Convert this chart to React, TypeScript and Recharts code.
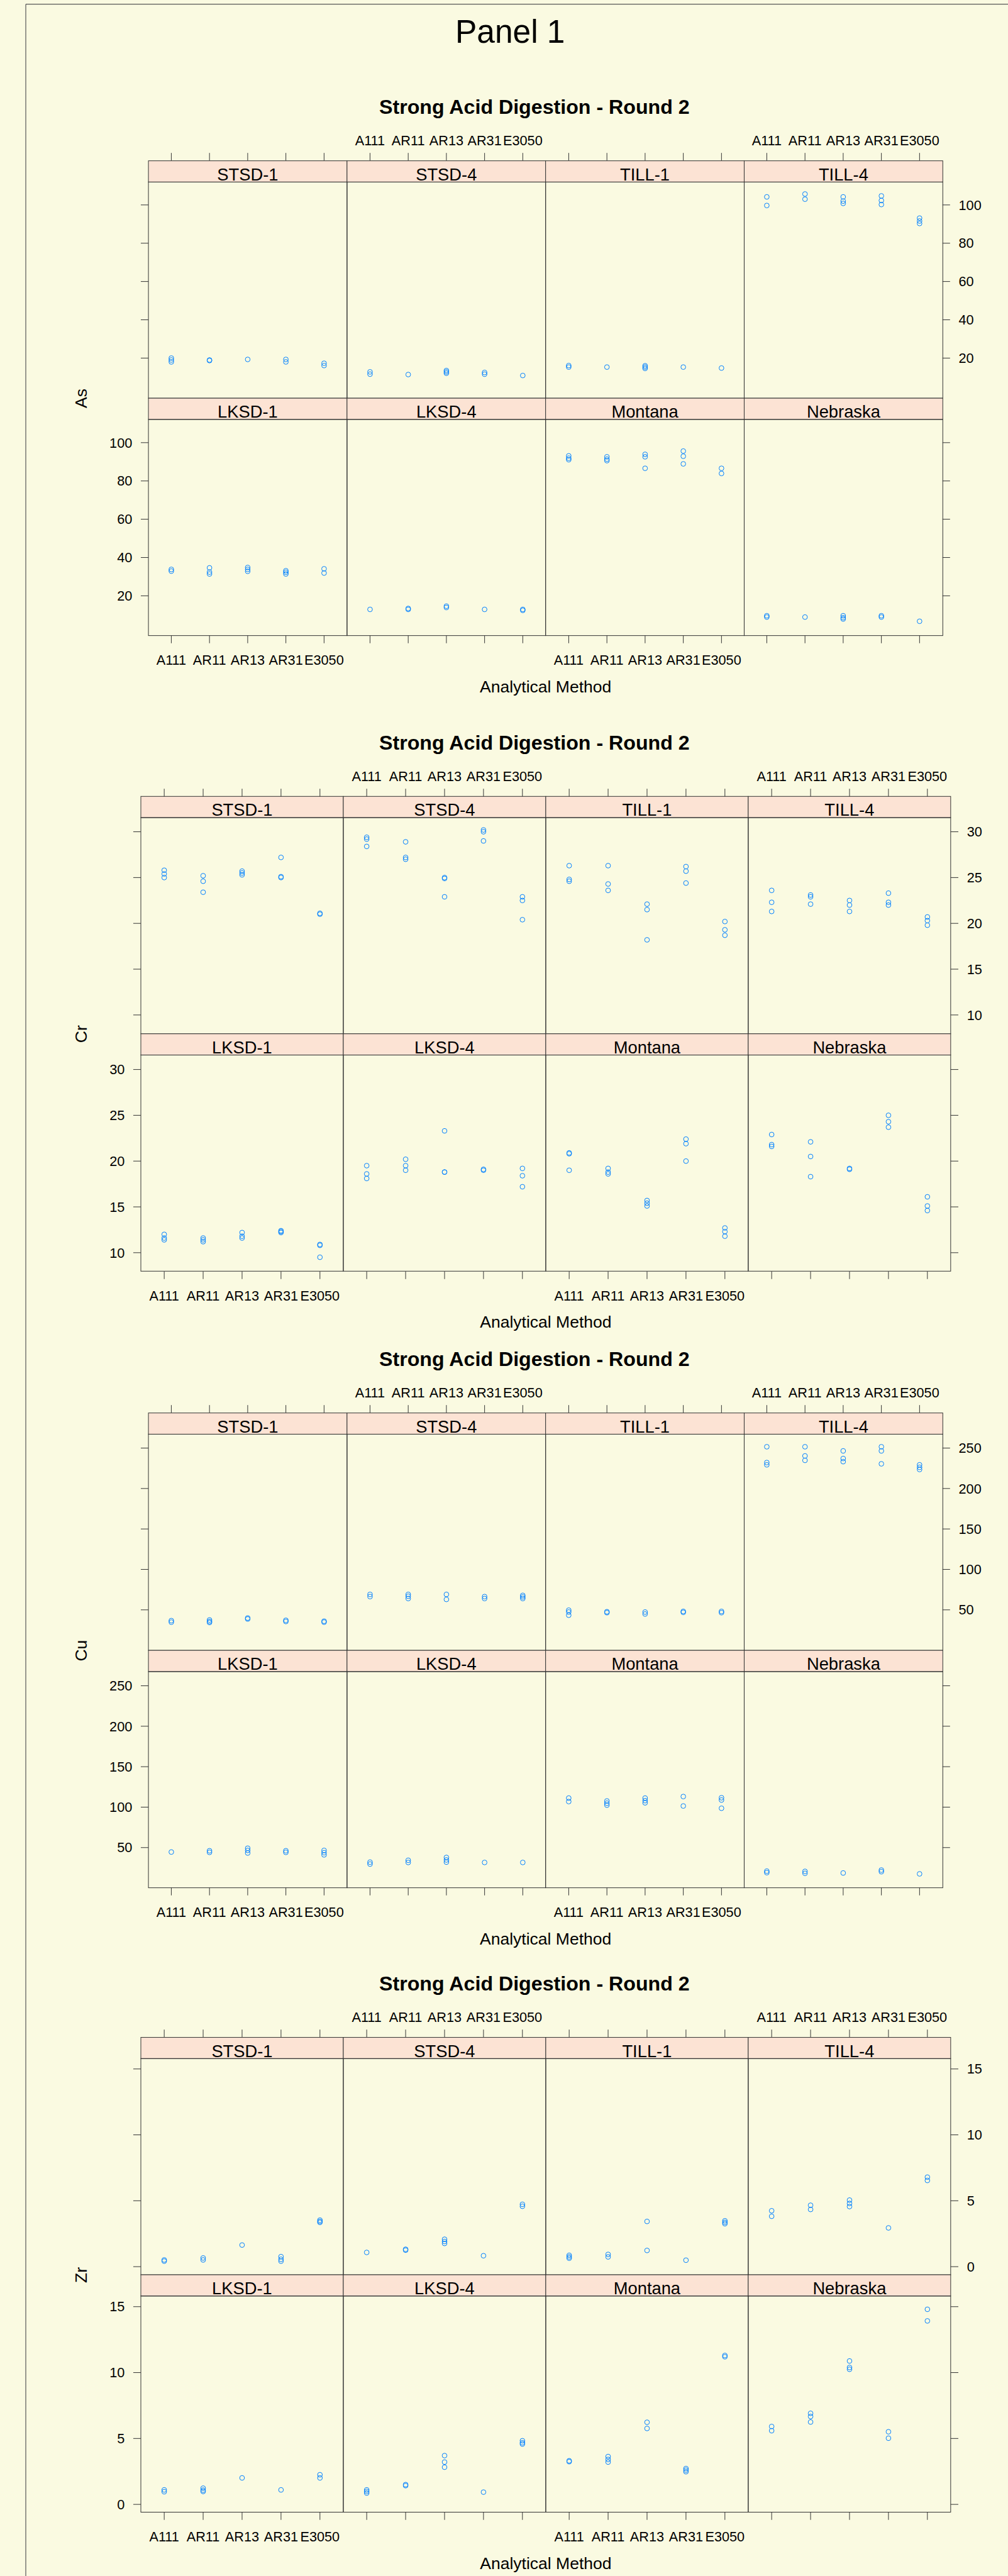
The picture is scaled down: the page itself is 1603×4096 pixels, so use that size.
import { ScatterChart, Scatter, XAxis, YAxis } from "recharts";

// ---- data ----
const METHODS = ["A111", "AR11", "AR13", "AR31", "E3050"];
const TOP_SAMPLES = ["STSD-1", "STSD-4", "TILL-1", "TILL-4"];
const BOTTOM_SAMPLES = ["LKSD-1", "LKSD-4", "Montana", "Nebraska"];
const ELEMENTS = ["As", "Cr", "Cu", "Zr"];

// replicate values per method, per sample
const AS_VALUES: Record<string, number[][]> = {
  "STSD-1": [[20.0, 19.0, 18.0], [19.0, 18.7], [19.3], [19.3, 18.0], [17.3, 16.1]],
  "STSD-4": [[12.8, 11.6], [11.4], [13.5, 12.8, 12.1], [12.5, 11.6], [10.9]],
  "TILL-1": [[16.1, 15.3], [15.3], [16.0, 15.3, 14.6], [15.3], [14.8]],
  "TILL-4": [[104.2, 99.7], [105.7, 103.0], [104.2, 102.0, 100.8], [104.7, 102.3, 100.2], [93.1, 91.6, 90.3]],
  "LKSD-1": [[33.8, 32.9], [34.6, 32.4, 31.4], [34.8, 33.8, 32.8], [33.1, 32.3, 31.4], [34.1, 31.9]],
  "LKSD-4": [[12.9], [13.4, 12.9], [14.6, 13.9], [12.9], [12.9, 12.4]],
  Montana: [[93.1, 91.9, 91.1], [92.6, 91.4, 90.6], [93.9, 92.6, 86.6], [95.6, 92.9, 88.9], [86.6, 83.9]],
  Nebraska: [[9.6, 8.9], [8.9], [9.6, 8.6, 7.9], [9.6, 8.9], [6.7]],
};

const CR_VALUES: Record<string, number[][]> = {
  "STSD-1": [[25.8, 25.4, 25.0], [25.2, 24.6, 23.4], [25.7, 25.5, 25.3], [27.2, 25.1, 25.0], [21.1, 21.0]],
  "STSD-4": [[29.4, 29.2, 28.4], [28.9, 27.2, 27.0], [25.0, 24.9, 22.9], [30.2, 30.0, 29.0], [22.9, 22.5, 20.4]],
  "TILL-1": [[26.3, 24.8, 24.6], [26.3, 24.3, 23.6], [22.1, 21.5, 18.2], [26.2, 25.7, 24.4], [20.2, 19.3, 18.7]],
  "TILL-4": [[23.6, 22.3, 21.3], [23.1, 22.9, 22.1], [22.5, 22.0, 21.3], [23.3, 22.3, 22.0], [20.7, 20.3, 19.8]],
  "LKSD-1": [[12.0, 11.6, 11.4], [11.6, 11.4, 11.2], [12.2, 11.8, 11.6], [12.4, 12.3, 12.2], [10.9, 10.8, 9.5]],
  "LKSD-4": [[19.5, 18.6, 18.1], [20.2, 19.5, 19.0], [23.3, 18.8, 18.8], [19.1, 19.0], [19.2, 18.4, 17.2]],
  Montana: [[20.9, 20.8, 19.0], [19.2, 18.8, 18.6], [15.7, 15.4, 15.1], [22.4, 21.9, 20.0], [12.7, 12.3, 11.8]],
  Nebraska: [[22.9, 21.8, 21.6], [22.1, 20.5, 18.3], [19.2, 19.1], [25.0, 24.3, 23.7], [16.1, 15.1, 14.6]],
};

const CU_VALUES: Record<string, number[][]> = {
  "STSD-1": [[36.7, 34.8], [37.5, 35.6, 34.4], [39.9, 38.7], [37.1, 35.6], [36.0, 34.8]],
  "STSD-4": [[69.1, 66.4], [69.1, 66.8, 64.0], [69.1, 62.9], [66.4, 64.0], [67.9, 66.0, 64.0]],
  "TILL-1": [[49.6, 47.3, 43.4], [47.7, 46.5], [47.3, 44.9], [48.1, 46.9], [48.1, 46.5]],
  "TILL-4": [[251.6, 232.1, 229.3], [251.6, 240.3, 234.8], [246.5, 237.1, 233.2], [251.6, 246.5, 230.5], [229.3, 226.2, 223.5]],
  "LKSD-1": [[44.5], [46.1, 44.1], [49.2, 46.5, 43.3], [46.1, 44.1], [46.5, 43.7, 41.0]],
  "LKSD-4": [[32.0, 29.6], [34.3, 31.6], [37.8, 34.7, 32.0], [31.6], [31.6]],
  Montana: [[111.2, 106.9], [107.6, 104.9, 102.5], [111.2, 108.0, 105.3], [113.1, 101.4], [111.6, 108.8, 98.6]],
  Nebraska: [[20.9, 19.0], [20.6, 18.2], [18.6], [22.2, 20.2], [17.5]],
};

const ZR_VALUES: Record<string, number[][]> = {
  "STSD-1": [[0.51, 0.42], [0.66, 0.51], [1.64], [0.76, 0.56, 0.42], [3.53, 3.43, 3.36]],
  "STSD-4": [[1.08], [1.32, 1.25], [2.08, 1.91, 1.76], [0.83], [4.73, 4.58]],
  "TILL-1": [[0.86, 0.74, 0.64], [0.93, 0.74], [3.43, 1.23], [0.49], [3.48, 3.36, 3.26]],
  "TILL-4": [[4.24, 3.82], [4.66, 4.34], [5.05, 4.8, 4.56], [2.94], [6.79, 6.54]],
  "LKSD-1": [[1.1, 0.96], [1.23, 1.08, 0.98], [2.01], [1.1], [2.25, 2.01]],
  "LKSD-4": [[1.1, 0.98, 0.86], [1.5, 1.42], [3.7, 3.21, 2.82], [0.93], [4.83, 4.68, 4.58]],
  Montana: [[3.31, 3.24], [3.63, 3.41, 3.21], [6.23, 5.76], [2.72, 2.6, 2.48], [11.3, 11.2]],
  Nebraska: [[5.91, 5.59], [6.91, 6.67, 6.25], [10.88, 10.39, 10.25], [5.51, 5.02], [14.8, 13.92]],
};

const AS_TICKS = [20, 40, 60, 80, 100];
const CR_TICKS = [10, 15, 20, 25, 30];
const CU_TICKS = [50, 100, 150, 200, 250];
const ZR_TICKS = [0, 5, 10, 15];

const AS_DOMAIN: [number, number] = [-0.8, 112.1];
const CR_DOMAIN: [number, number] = [7.95, 31.55];
const CU_DOMAIN: [number, number] = [0.3, 267.5];
const ZR_DOMAIN: [number, number] = [-0.6, 15.8];

const BLOCKS = [
  { values: AS_VALUES, ticks: AS_TICKS, domain: AS_DOMAIN },
  { values: CR_VALUES, ticks: CR_TICKS, domain: CR_DOMAIN },
  { values: CU_VALUES, ticks: CU_TICKS, domain: CU_DOMAIN },
  { values: ZR_VALUES, ticks: ZR_TICKS, domain: ZR_DOMAIN },
];

// ---- layout (reference pixels, scaled by F) ----
const F = 0.804;
const FONT = "'Liberation Sans', Arial, Helvetica, sans-serif";
const BG = "#FAFAE1";
const STRIP_BG = "#FCE3D4";
const LINE = "#333333";
const DOT = "#0080FF";

const STRIP_H = 42;
const PANEL_H = 427.5;
const TICK_LEN = 15;
const TICK_FONT = 27;
const X_DOMAIN: [number, number] = [0.4, 5.6];
const X_TICKS = [1, 2, 3, 4, 5];

const BLOCK_LAYOUT = [
  { stripTop: 318, left: 293.6, colW: 392.8 },
  { stripTop: 1575, left: 278.6, colW: 400.45 },
  { stripTop: 2794.4, left: 293.6, colW: 392.8 },
  { stripTop: 4029.3, left: 278.6, colW: 400.45 },
];

const M_SIDE = 100;
const M_TOP = 110;
const M_BOTTOM = 80;

interface PanelProps {
  values: number[][];
  ticks: number[];
  domain: [number, number];
  left: number;
  top: number;
  width: number;
  row: number;
  col: number;
}

function Panel({ values, ticks, domain, left, top, width, row, col }: PanelProps) {
  const data = values.flatMap((vals, i) => vals.map((v) => ({ x: i + 1, y: v })));
  const h = PANEL_H * F;
  const plotTop = M_TOP;
  const plotBottom = M_TOP + h;
  const isTop = row === 0;
  const yHidden = col === 1 || col === 2;

  const margin = {
    top: isTop ? 0 : M_TOP,
    bottom: isTop ? M_BOTTOM : 0,
    left: col === 0 ? 0 : M_SIDE,
    right: col === 3 ? 0 : M_SIDE,
  };

  const renderXTick = (props: any) => {
    const { x, payload } = props;
    const label = METHODS[payload.value - 1];
    if (isTop) {
      const y0 = plotTop - STRIP_H * F;
      return (
        <g>
          <line x1={x} x2={x} y1={y0} y2={y0 - TICK_LEN * F} stroke={LINE} strokeWidth={1} />
          {col % 2 === 1 && (
            <text x={x} y={y0 - 30 * F} textAnchor="middle" fontSize={TICK_FONT * F} fontFamily={FONT} fill="#000">
              {label}
            </text>
          )}
        </g>
      );
    }
    return (
      <g>
        <line x1={x} x2={x} y1={plotBottom} y2={plotBottom + TICK_LEN * F} stroke={LINE} strokeWidth={1} />
        {col % 2 === 0 && (
          <text x={x} y={plotBottom + 58 * F} textAnchor="middle" fontSize={TICK_FONT * F} fontFamily={FONT} fill="#000">
            {label}
          </text>
        )}
      </g>
    );
  };

  const showY = (col === 0 && row === 1) || (col === 3 && row === 0);

  return (
    <div style={{ position: "absolute", left: left - M_SIDE, top: top - M_TOP }}>
      <ScatterChart width={width + 2 * M_SIDE} height={h + M_TOP + M_BOTTOM} margin={margin}>
        <XAxis
          type="number"
          dataKey="x"
          domain={X_DOMAIN}
          ticks={X_TICKS}
          allowDataOverflow
          interval={0}
          orientation={isTop ? "top" : "bottom"}
          height={isTop ? M_TOP : M_BOTTOM}
          axisLine={false}
          tickLine={false}
          tick={renderXTick}
        />
        <YAxis
          type="number"
          dataKey="y"
          domain={domain}
          ticks={ticks}
          allowDataOverflow
          interval={0}
          hide={yHidden}
          orientation={col === 3 ? "right" : "left"}
          width={M_SIDE}
          axisLine={false}
          tickSize={TICK_LEN * F}
          tickMargin={17 * F}
          tickLine={{ stroke: LINE, strokeWidth: 1 }}
          tick={{ fontSize: TICK_FONT * F, fill: "#000", fontFamily: FONT }}
          tickFormatter={(v) => (showY ? String(v) : "")}
        />
        <Scatter
          data={data}
          isAnimationActive={false}
          shape={(p: any) => (
            <circle cx={p.cx} cy={p.cy} r={3.8} fill="none" stroke={DOT} strokeWidth={1} />
          )}
        />
      </ScatterChart>
    </div>
  );
}

export default function App() {
  const W = 1603;
  const H = 4096;

  const decorations: any[] = [];
  const panels: any[] = [];

  BLOCKS.forEach((block, b) => {
    const lay = BLOCK_LAYOUT[b];
    const rightEdge = lay.left + 4 * lay.colW;
    const bottom = lay.stripTop + 2 * (STRIP_H + PANEL_H);

    decorations.push(
      <text key={`title-${b}`} x={1057 * F} y={(lay.stripTop - 92.5) * F} textAnchor="middle"
        fontSize={40 * F} fontWeight="bold" fontFamily={FONT} fill="#000">
        Strong Acid Digestion - Round 2
      </text>,
      <text key={`xlab-${b}`} x={((lay.left + rightEdge) / 2) * F} y={(bottom + 112) * F} textAnchor="middle"
        fontSize={33 * F} fontFamily={FONT} fill="#000">
        Analytical Method
      </text>,
      <text key={`ylab-${b}`} x={161 * F} y={(lay.stripTop + 470) * F} textAnchor="middle" dominantBaseline="central"
        transform={`rotate(-90 ${161 * F} ${(lay.stripTop + 470) * F})`}
        fontSize={33 * F} fontFamily={FONT} fill="#000">
        {ELEMENTS[b]}
      </text>
    );

    [TOP_SAMPLES, BOTTOM_SAMPLES].forEach((samples, row) => {
      const stripTop = lay.stripTop + row * (STRIP_H + PANEL_H);
      const panelTop = stripTop + STRIP_H;
      samples.forEach((sample, col) => {
        const x = lay.left + col * lay.colW;
        decorations.push(
          <rect key={`strip-${b}-${row}-${col}`} x={x * F} y={stripTop * F} width={lay.colW * F} height={STRIP_H * F}
            fill={STRIP_BG} stroke={LINE} strokeWidth={1} />,
          <text key={`stext-${b}-${row}-${col}`} x={(x + lay.colW / 2) * F} y={(stripTop + 38.5) * F}
            textAnchor="middle" fontSize={34 * F} fontFamily={FONT} fill="#000">
            {sample}
          </text>,
          <rect key={`box-${b}-${row}-${col}`} x={x * F} y={panelTop * F} width={lay.colW * F} height={PANEL_H * F}
            fill="none" stroke={LINE} strokeWidth={1} />
        );
        panels.push(
          <Panel
            key={`panel-${b}-${row}-${col}`}
            values={block.values[sample]}
            ticks={block.ticks}
            domain={block.domain}
            left={x * F}
            top={panelTop * F}
            width={lay.colW * F}
            row={row}
            col={col}
          />
        );
      });
    });
  });

  return (
    <div style={{ position: "absolute", left: 0, top: 0, width: W, height: H, background: BG, overflow: "hidden" }}>
      <svg width={W} height={H} style={{ position: "absolute", left: 0, top: 0 }}>
        <line x1={51 * F} y1={8.3 * F} x2={W} y2={8.3 * F} stroke="#555" strokeWidth={1.2} />
        <line x1={51 * F} y1={8.3 * F} x2={51 * F} y2={H} stroke="#555" strokeWidth={1.2} />
        <text x={1009 * F} y={85 * F} textAnchor="middle" fontSize={64 * F} fontFamily={FONT} fill="#000">
          Panel 1
        </text>
        {decorations}
      </svg>
      {panels}
    </div>
  );
}
